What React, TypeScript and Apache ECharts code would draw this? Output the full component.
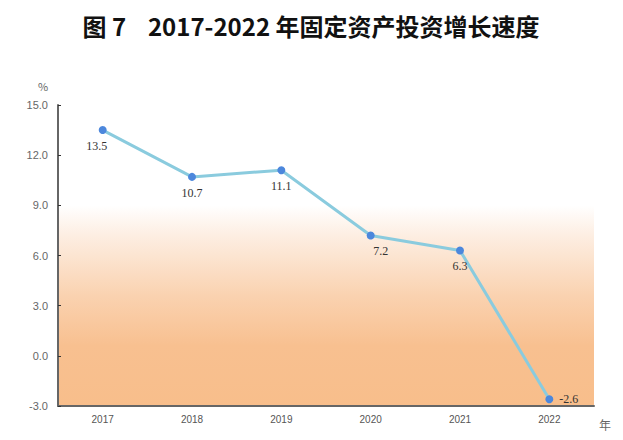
import React, { useEffect, useRef } from "react";
import * as echarts from "echarts";

const years = ["2017", "2018", "2019", "2020", "2021", "2022"];
const growth = [13.5, 10.7, 11.1, 7.2, 6.3, -2.6];
const yMin = -3;
const yMax = 15;
const yStep = 3;
const titleText = "图 7    2017-2022 年固定资产投资增长速度";
const yUnit = "%";
const xUnit = "年";

const labelTweaks: Record<number, any> = {
  0: { offset: [-6, 0] },
  3: { offset: [10, 0] },
  5: { position: "right", distance: 6, offset: [0, 0] },
};

export default function App() {
  const ref = useRef<HTMLDivElement>(null);
  useEffect(() => {
    const chart = echarts.init(ref.current!, null, { renderer: "svg" });
    const data = growth.map((v, i) => ({
      value: v,
      label: labelTweaks[i] ? { ...labelTweaks[i] } : undefined,
    }));
    chart.setOption({
      animation: false,
      backgroundColor: "#ffffff",
      title: {
        text: titleText,
        left: 306,
        textAlign: "center",
        top: 8,
        textStyle: {
          fontFamily: "Noto Sans CJK SC",
          fontWeight: "bold",
          fontSize: 24,
          color: "#111",
        },
      },
      grid: { left: 58, right: 29, top: 105, bottom: 34 },
      graphic: [
        {
          type: "text",
          left: 38,
          top: 80,
          style: { text: yUnit, fontSize: 11, fill: "#666", fontFamily: "Noto Sans CJK SC" },
        },
        {
          type: "text",
          left: 599,
          top: 418,
          style: { text: xUnit, fontSize: 12, fill: "#666", fontFamily: "Noto Sans CJK SC" },
        },
      ],
      xAxis: {
        type: "category",
        data: years,
        boundaryGap: true,
        axisLine: { onZero: false, lineStyle: { color: "#666", width: 2 } },
        axisTick: { inside: true, length: 3, lineStyle: { color: "#333" } },
        axisLabel: { color: "#555", fontSize: 10, margin: 8, fontFamily: "Liberation Sans" },
      },
      yAxis: {
        type: "value",
        min: yMin,
        max: yMax,
        interval: yStep,
        splitLine: { show: false },
        axisLine: { show: true, lineStyle: { color: "#666", width: 2 } },
        axisTick: { show: true, inside: true, length: 3, lineStyle: { color: "#333" } },
        axisLabel: {
          color: "#666",
          fontSize: 11,
          margin: 10,
          fontFamily: "Liberation Sans",
          formatter: (v: number) => v.toFixed(1),
        },
      },
      series: [
        {
          type: "line",
          data,
          symbol: "circle",
          symbolSize: 8,
          itemStyle: { color: "#4C87DC" },
          lineStyle: { color: "#8ACBDE", width: 3 },
          label: {
            show: true,
            position: "bottom",
            distance: 6,
            color: "#333",
            fontSize: 12,
            fontFamily: "Liberation Serif",
            formatter: (p: any) => p.value.toFixed(1),
          },
          markArea: {
            silent: true,
            z: -1,
            itemStyle: {
              color: new echarts.graphic.LinearGradient(0, 0, 0, 1, [
                { offset: 0, color: "#FFFFFF" },
                { offset: 0.15, color: "#FDEEE2" },
                { offset: 0.45, color: "#FAD2B0" },
                { offset: 0.7, color: "#F8C090" },
                { offset: 1, color: "#F8BE8B" },
              ]),
            },
            data: [[{ yAxis: yMin }, { yAxis: 9 }]],
          },
        },
      ],
    });
    return () => chart.dispose();
  }, []);
  return <div ref={ref} style={{ width: 623, height: 440, position: "absolute", left: 0, top: 0 }} />;
}
